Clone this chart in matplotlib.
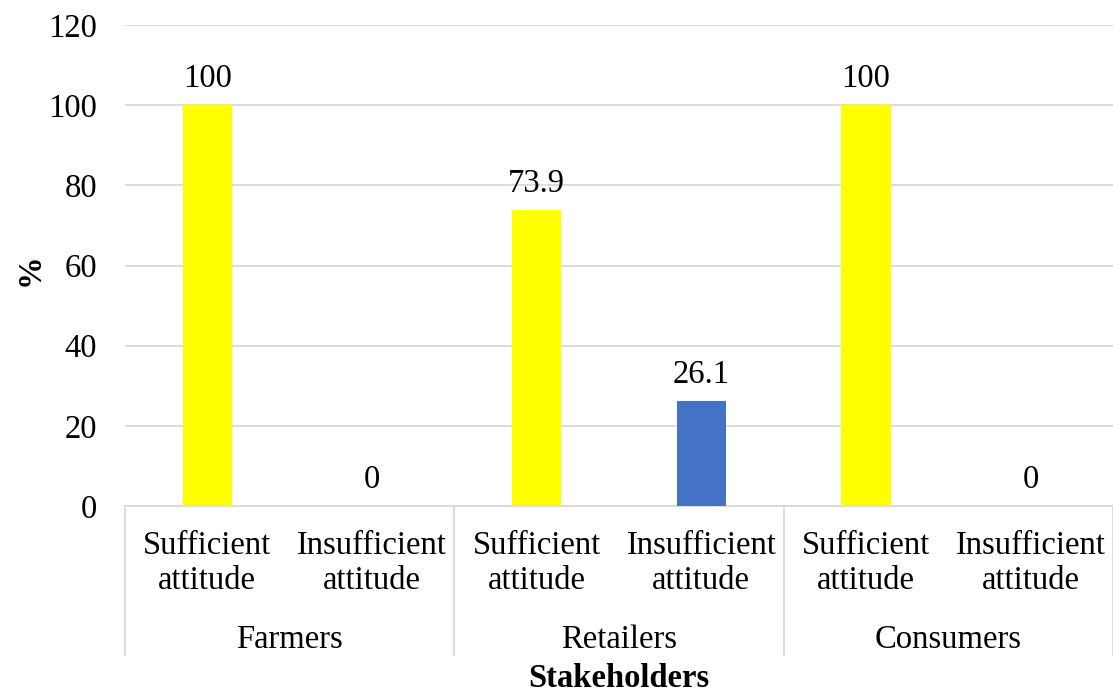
import matplotlib
matplotlib.use("Agg")
from matplotlib import pyplot as plt
import numpy as np

# Datos
stakeholders = ["Farmers", "Retailers", "Consumers"]
attitudes = ["Sufficient\nattitude", "Insufficient\nattitude"]
values = [100, 0, 73.9, 26.1, 100, 0]
attitude_colors = ["#FFFF00", "#4472C4"]

plt.rcParams["font.family"] = ["Liberation Serif", "DejaVu Serif"]
fs = 23.5

fig = plt.figure(figsize=(11.13, 6.93), dpi=100)
ax = fig.add_axes([125 / 1113, 1 - 506 / 693, 988 / 1113, 481 / 693])

n = len(values)
x = np.arange(n)
colors = [attitude_colors[i % 2] for i in range(n)]
bars = ax.bar(x, values, width=0.30, color=colors, zorder=3)

for xi, v in zip(x, values):
    label = "{:g}".format(v)
    ax.annotate(label, (xi, v), xytext=(0, 19), textcoords="offset points",
                ha="center", va="center", fontsize=fs)

ax.set_xlim(-0.5, n - 0.5)
ax.set_ylim(0, 120)
ax.set_yticks(np.arange(0, 121, 20))
ax.yaxis.grid(True, color="#D9D9D9", linewidth=1.3, zorder=0)
ax.tick_params(axis="y", length=0, pad=20, labelsize=fs)
ax.set_xticks([])
for s in ["top", "right", "left"]:
    ax.spines[s].set_visible(False)
ax.spines["bottom"].set_color("#D9D9D9")
ax.spines["bottom"].set_linewidth(1.3)

# Etiquetas de las categorías (dos niveles)
trans = ax.get_xaxis_transform()
for i in range(n):
    ax.text(i, -0.119, attitudes[i % 2], transform=trans, ha="center", va="center",
            fontsize=fs, linespacing=1.2, clip_on=False)
for g, name in enumerate(stakeholders):
    ax.text(2 * g + 0.5, -0.279, name, transform=trans, ha="center", va="center",
            fontsize=fs, clip_on=False)
for b in range(len(stakeholders) + 1):
    ax.plot([2 * b - 0.5, 2 * b - 0.5], [0, -0.31], transform=trans, color="#D9D9D9",
            linewidth=1.3, clip_on=False)

ax.text(2.5, -0.358, "Stakeholders", transform=trans, ha="center", va="center",
        fontsize=fs, fontweight="bold", clip_on=False)
fig.text(30 / 1113, 1 - 270 / 693, "%", rotation=90, ha="center", va="center",
         fontsize=fs, fontweight="bold")

fig.savefig("out.png", dpi=100)
